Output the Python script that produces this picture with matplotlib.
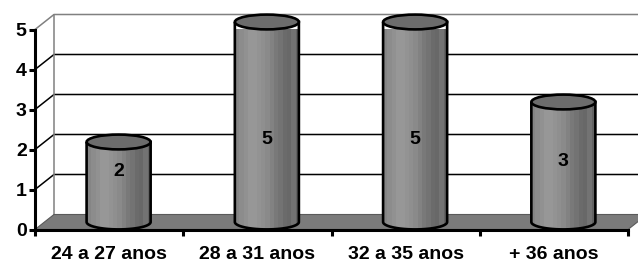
import numpy as np
import matplotlib.pyplot as plt
from matplotlib.patches import Polygon, Ellipse, PathPatch
from matplotlib.path import Path

categories = ["24 a 27 anos", "28 a 31 anos", "32 a 35 anos", "+ 36 anos"]
values = [2, 5, 5, 3]
yticks = [0, 1, 2, 3, 4, 5]

plt.rcParams['font.family'] = ['Liberation Sans', 'DejaVu Sans']
plt.rcParams['font.weight'] = 'bold'

fig = plt.figure(figsize=(6.38, 2.66), dpi=100)
ax = fig.add_axes([35/638, 36.5/266, 593/638, 200/266])
ax.patch.set_visible(False)

n = len(categories)
dx, dy = 0.128, 0.375      # depth of the 3d box, in data units
x0, x1 = -0.5, n - 0.5
top = max(yticks)

# back wall + side wall gridlines
for v in yticks[1:]:
    c = '#808080' if v == top else 'black'
    ax.plot([x0, x0 + dx, x1 + dx], [v, v + dy, v + dy], color=c, lw=1.1,
            clip_on=False, zorder=1)
ax.plot([x0 + dx, x0 + dx], [dy, top + dy], color='#808080', lw=1.1,
        clip_on=False, zorder=1)

# floor
ax.add_patch(Polygon([(x0, 0), (x1, 0), (x1 + dx, dy), (x0 + dx, dy)],
                     closed=True, fc='#7b7b7b', ec='#5a5a5a', lw=0.8,
                     clip_on=False, zorder=1.5))

# cylinders
w, eh = 0.432, 0.37
shades = [0.52, 0.55, 0.57, 0.59, 0.59, 0.58, 0.56, 0.54, 0.51, 0.48,
          0.45, 0.42, 0.41, 0.45, 0.39]
grad = np.array([shades])
t = np.linspace(np.pi, 2 * np.pi, 50)
for i, v in enumerate(values):
    cx = i + dx / 2
    yb = dy / 2
    yt = v + dy / 2
    ex = cx + w / 2 * np.cos(t)
    ey = yb + eh / 2 * np.sin(t)
    verts = [(cx - w / 2, yt)] + list(zip(ex, ey)) + [(cx + w / 2, yt), (cx - w / 2, yt)]
    body = PathPatch(Path(verts), fc='none', ec='black', lw=1.9,
                     clip_on=False, zorder=3)
    ax.add_patch(body)
    ax.imshow(grad, extent=[cx - w / 2, cx + w / 2, yb - eh / 2, yt],
              aspect='auto', cmap='gray', vmin=0, vmax=1,
              interpolation='nearest', clip_path=body, zorder=2.8)
    ax.add_patch(Ellipse((cx, yt), w, eh, fc='#6c6c6c', ec='black', lw=1.9,
                         clip_on=False, zorder=3.5))
    # excel puts the labels a bit oddly inside the cylinders
    ax.text(cx, 0.9 + 0.27 * v, str(v), ha='center', va='center',
            fontsize=14, fontweight='bold', zorder=5)

ax.set_xlim(x0, x1)
ax.set_ylim(0, top)

for s in ['top', 'right']:
    ax.spines[s].set_visible(False)
for s in ['left', 'bottom']:
    ax.spines[s].set_linewidth(2.2)
    ax.spines[s].set_zorder(4)

ax.set_yticks(yticks)
ax.set_yticklabels([str(v) for v in yticks])
ax.tick_params(axis='y', direction='out', length=4, width=2.2, pad=2,
               labelsize=14)
ax.set_xticks(range(n))
ax.set_xticklabels(categories)
ax.set_xticks(np.arange(n + 1) - 0.5, minor=True)
ax.tick_params(axis='x', which='major', length=0, pad=12, labelsize=14)
ax.tick_params(axis='x', which='minor', direction='out', length=4, width=2.2)

fig.savefig('out.png', dpi=100)
